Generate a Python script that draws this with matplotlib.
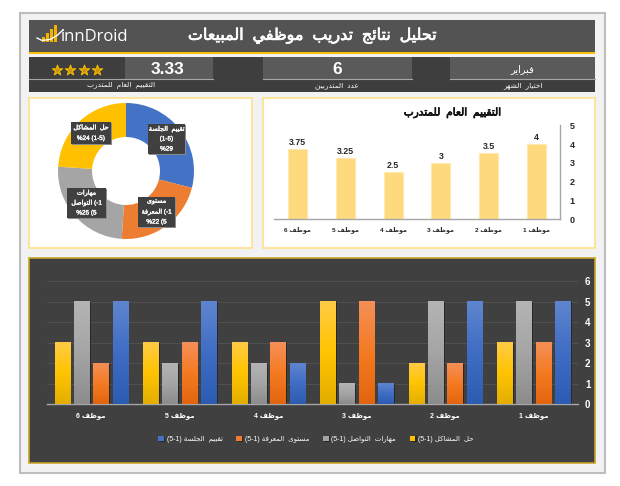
import re
import numpy as np
import matplotlib
matplotlib.use("Agg")
import matplotlib.pyplot as plt
from matplotlib.patches import Rectangle
from matplotlib.colors import LinearSegmentedColormap
import matplotlib.patheffects as pe

plt.rcParams['font.family'] = ['Liberation Sans', 'DejaVu Sans']

# ---------- data ----------
employees = ["موظف 1", "موظف 2", "موظف 3", "موظف 4", "موظف 5", "موظف 6"]
overall_scores = [4, 3.5, 3, 2.5, 3.25, 3.75]
problem_solving = [3, 2, 5, 3, 3, 3]
communication = [5, 5, 1, 2, 2, 5]
knowledge = [3, 2, 5, 3, 3, 2]
session = [5, 5, 1, 2, 5, 5]
share_values = [29, 22, 25, 24]
share_colors = ["#4472C4", "#ED7D31", "#A5A5A5", "#FFC000"]
rating = "3.33"
rating_stars = 4
trainees = "6"

TITLE = "تحليل نتائج تدريب موظفي المبيعات"
CHART_TITLE = "التقييم العام للمتدرب"
MONTH = "فبراير"
SUB_RATING = "التقييم العام للمتدرب"
SUB_COUNT = "عدد المتدربين"
SUB_MONTH = "اختيار الشهر"
LEG_SESSION = "تقييم الجلسة (5-1)"
LEG_KNOW = "مستوى المعرفة (5-1)"
LEG_COMM = "مهارات التواصل (5-1)"
LEG_PROB = "حل المشاكل (5-1)"

# ---------- Arabic shaping (matplotlib has no shaping or bidi of its own) ----------
FORMS = {
 'ء': (0xFE80, 1), 'آ': (0xFE81, 2), 'أ': (0xFE83, 2), 'ؤ': (0xFE85, 2), 'إ': (0xFE87, 2),
 'ئ': (0xFE89, 4), 'ا': (0xFE8D, 2), 'ب': (0xFE8F, 4), 'ة': (0xFE93, 2), 'ت': (0xFE95, 4),
 'ث': (0xFE99, 4), 'ج': (0xFE9D, 4), 'ح': (0xFEA1, 4), 'خ': (0xFEA5, 4), 'د': (0xFEA9, 2),
 'ذ': (0xFEAB, 2), 'ر': (0xFEAD, 2), 'ز': (0xFEAF, 2), 'س': (0xFEB1, 4), 'ش': (0xFEB5, 4),
 'ص': (0xFEB9, 4), 'ض': (0xFEBD, 4), 'ط': (0xFEC1, 4), 'ظ': (0xFEC5, 4), 'ع': (0xFEC9, 4),
 'غ': (0xFECD, 4), 'ف': (0xFED1, 4), 'ق': (0xFED5, 4), 'ك': (0xFED9, 4), 'ل': (0xFEDD, 4),
 'م': (0xFEE1, 4), 'ن': (0xFEE5, 4), 'ه': (0xFEE9, 4), 'و': (0xFEED, 2), 'ى': (0xFEEF, 2),
 'ي': (0xFEF1, 4),
}


def shape_word(w):
    out = []
    for i, c in enumerate(w):
        base, n = FORMS[c]
        prev_joins = i > 0 and FORMS[w[i - 1]][1] == 4
        next_joins = i < len(w) - 1
        if n == 1:
            k = 0
        elif n == 2:
            k = 1 if prev_joins else 0
        else:
            k = {(False, False): 0, (True, False): 1, (False, True): 2, (True, True): 3}[(prev_joins, next_joins)]
        out.append(chr(base + k))
    return ''.join(out)


def neutral(p):
    core = p.strip(' ')
    lead = len(p) - len(p.lstrip(' '))
    trail = len(p) - len(p.rstrip(' '))
    return ' ' * trail + core + ' ' * lead


def ar(text):
    """Return the string in visual order with presentation forms; digit/bracket runs stay left to right."""
    parts = re.findall(r'[\u0621-\u064A]+|[^\u0621-\u064A]+', text)
    vis = [shape_word(p)[::-1] if p[0] in FORMS else neutral(p) for p in parts]
    return ''.join(vis[::-1])


# ---------- figure ----------
W, H = 620, 486
fig = plt.figure(figsize=(W / 100, H / 100), dpi=100, facecolor='white')


def axpx(x0, y0, x1, y1, **kw):
    return fig.add_axes([x0 / W, 1 - y1 / H, (x1 - x0) / W, (y1 - y0) / H], **kw)


bg = axpx(0, 0, W, H, zorder=0)
bg.set_xlim(0, W)
bg.set_ylim(H, 0)
bg.axis('off')
fg = axpx(0, 0, W, H, zorder=10)
fg.set_xlim(0, W)
fg.set_ylim(H, 0)
fg.axis('off')
fg.patch.set_alpha(0)


def rect(a, x0, y0, x1, y1, fc, ec='none', lw=0, z=1):
    a.add_patch(Rectangle((x0, y0), x1 - x0, y1 - y0, fc=fc, ec=ec, lw=lw, zorder=z))


rect(bg, 19.5, 13.5, 605, 473, '#F2F2F2', '#BDBDBD', 1.5)
# title band
rect(bg, 29, 20, 595, 52, '#535353')
rect(bg, 29, 52, 595, 54, '#FFC000')
bg.text(313, 36, ar(TITLE), color='white', fontsize=11.5, ha='center', va='center', zorder=3,
        path_effects=[pe.withStroke(linewidth=0.5, foreground='white')])

# logo
for x, y in zip([41.5, 45.5, 49.5, 53.5], [37, 33, 29, 25]):
    rect(bg, x, y, x + 3.2, 42, '#F2B200', z=3)
bg.plot([37, 42, 50, 57, 63], [38, 40.5, 39.5, 35.5, 30], color='white', lw=1, zorder=4)
bg.text(61, 37, "innDroid", color='white', fontsize=12, ha='left', va='center', zorder=3,
        family='Open Sans')

# KPI band
rect(bg, 29, 57, 595, 92, '#3E3E3E')
rect(bg, 125, 57, 213, 79, '#5A5A5A', z=2)
rect(bg, 263, 57, 412, 79, '#5A5A5A', z=2)
rect(bg, 450, 57, 595, 79, '#5A5A5A', z=2)
for x0, x1 in [(29, 213), (263, 412), (450, 595)]:
    bg.plot([x0, x1], [78.7, 78.7], color='#A6A6A6', lw=0.8, zorder=3)
star_x = 57 + 13.4 * np.arange(rating_stars)
bg.scatter(star_x, np.full(rating_stars, 70), marker='*', s=62, facecolor='#C99500', edgecolor='#FFC000',
           linewidth=0.7, zorder=4)
bg.text(168, 69, rating, color='white', fontsize=12.5, fontweight='bold', ha='center', va='center', zorder=4)
bg.text(337, 69, trainees, color='white', fontsize=12.5, fontweight='bold', ha='center', va='center', zorder=4)
bg.text(522, 69, ar(MONTH), color='white', fontsize=7, ha='center', va='center', zorder=4)
for x, s in [(121, SUB_RATING), (337, SUB_COUNT), (523, SUB_MONTH)]:
    bg.text(x, 85.5, ar(s), color='white', fontsize=5.3, ha='center', va='center', zorder=4)

# panels
rect(bg, 29, 98, 251.5, 248, 'white', '#FFE08A', 1.2)
rect(bg, 263, 98, 595, 248, 'white', '#FFE08A', 1.2)
rect(bg, 29, 258, 595, 462.5, '#404040', '#C9A227', 1.2)

# ---------- donut ----------
pie_ax = axpx(126 - 68, 171 - 68, 126 + 68, 171 + 68, zorder=5)
pie_ax.pie(share_values, colors=share_colors, startangle=90, counterclock=False, radius=1,
           wedgeprops=dict(width=0.5, edgecolor='none'))
pie_ax.set_xlim(-1, 1)
pie_ax.set_ylim(-1, 1)

pie_labels = [
    ((148, 124, 185, 154), [ar("تقييم الجلسة"), "(1-5)", "%" + str(share_values[0])]),
    ((138, 197, 175, 227), [ar("مستوى"), ar("المعرفة") + " (-1", "%" + str(share_values[1]) + " (5"]),
    ((67, 188, 106, 218), [ar("مهارات"), ar("التواصل") + " (-1", "%" + str(share_values[2]) + " (5"]),
    ((71, 122, 111, 144), [ar("حل المشاكل"), "%" + str(share_values[3]) + " (1-5)"]),
]
for (x0, y0, x1, y1), lines in pie_labels:
    rect(fg, x0 + 1.2, y0 + 1.2, x1 + 1.2, y1 + 1.2, '#8C8C8C', z=1)
    rect(fg, x0, y0, x1, y1, '#404040', z=2)
    n = len(lines)
    step = (y1 - y0) / n
    for i, t in enumerate(lines):
        fg.text((x0 + x1) / 2, y0 + step * (i + 0.5), t, color='white', fontsize=4.6,
                ha='center', va='center', zorder=3,
                path_effects=[pe.withStroke(linewidth=0.25, foreground='white')])

# ---------- overall score bars ----------
ax1 = axpx(274, 125.3, 560, 219.3, zorder=5)
ax1.patch.set_alpha(0)
x1_pos = np.arange(len(employees))
ax1.bar(x1_pos, overall_scores, width=0.4, color='#FFD97D', edgecolor='#FFE9B0', linewidth=0.8)
for x, v in zip(x1_pos, overall_scores):
    ax1.text(x, v + 0.12, f"{v:g}", ha='center', va='bottom', fontsize=6.3, fontweight='bold', color='#262626')
ax1.set_xlim(len(employees) - 0.5, -0.5)
ax1.set_ylim(0, 5)
ax1.yaxis.tick_right()
ax1.set_yticks(range(6))
ax1.set_xticks(x1_pos)
ax1.set_xticklabels([ar(e) for e in employees], fontsize=4.6, fontweight='bold', color='#262626')
ax1.tick_params(axis='both', length=0)
ax1.tick_params(axis='y', labelsize=6.5, pad=7, labelcolor='#262626')
ax1.tick_params(axis='x', pad=5)
for lab in ax1.get_yticklabels():
    lab.set_fontweight('bold')
for s in ('top', 'left'):
    ax1.spines[s].set_visible(False)
for s in ('right', 'bottom'):
    ax1.spines[s].set_color('#A6A6A6')
    ax1.spines[s].set_linewidth(1)
bg.text(452, 113, ar(CHART_TITLE), fontsize=7.6, color='#111111', ha='center', va='center', zorder=4,
        path_effects=[pe.withStroke(linewidth=0.5, foreground='#111111')])

# ---------- grouped bars ----------
ax2 = axpx(47, 281, 578, 404, zorder=5)
ax2.patch.set_alpha(0)
series = [
    (problem_solving, LEG_PROB, '#FFC000', ['#FFCB45', '#FFC400', '#E3AE00']),
    (communication, LEG_COMM, '#A5A5A5', ['#B4B4B4', '#A5A5A5', '#8C8C8C']),
    (knowledge, LEG_KNOW, '#ED7D31', ['#F58F58', '#F47B22', '#E3650F']),
    (session, LEG_SESSION, '#4472C4', ['#5F85CF', '#3F6DC4', '#2D5CB3']),
]
step = 0.218
width = 0.173
xg = np.arange(len(employees))
for j, (vals, name, col, stops) in enumerate(series):
    offs = (1.5 - j) * step
    bars = ax2.bar(xg + offs, vals, width=width, color=col, label=ar(name), zorder=2)
    cmap = LinearSegmentedColormap.from_list(name, stops)
    grad = np.linspace(0, 1, 64).reshape(-1, 1)
    for b in bars:
        b.set_path_effects([pe.SimplePatchShadow(offset=(0.9, -0.5), shadow_rgbFace='#222222', alpha=0.8), pe.Normal()])
        ax2.imshow(grad, cmap=cmap, aspect='auto', interpolation='bilinear', zorder=3,
                   extent=(b.get_x(), b.get_x() + b.get_width(), 0, b.get_height()))
ax2.set_xlim(len(employees) - 0.5, -0.5)
ax2.set_ylim(0, 6)
ax2.yaxis.tick_right()
ax2.set_yticks(range(7))
ax2.set_xticks(xg)
ax2.set_xticklabels([ar(e) for e in employees], fontsize=5, fontweight='bold', color='white')
ax2.grid(axis='y', color='#505050', lw=0.8, zorder=0)
ax2.set_axisbelow(True)
ax2.tick_params(axis='both', length=0)
ax2.tick_params(axis='y', labelsize=7, labelcolor='white', pad=5)
ax2.tick_params(axis='x', pad=6)
for lab in ax2.get_yticklabels():
    lab.set_fontweight('bold')
for s in ('top', 'left', 'right'):
    ax2.spines[s].set_visible(False)
ax2.spines['bottom'].set_color('#A6A6A6')
ax2.spines['bottom'].set_linewidth(1)
h, l = ax2.get_legend_handles_labels()
leg = ax2.legend(h[::-1], l[::-1], ncol=4, frameon=False, loc='center', fontsize=5, labelcolor='white',
                 bbox_to_anchor=((316 - 47) / 531, (404 - 439) / 123), handlelength=0.8, handleheight=0.8,
                 handletextpad=0.4, columnspacing=2.0, borderpad=0)

fig.savefig('out.png', dpi=100, facecolor='white')
